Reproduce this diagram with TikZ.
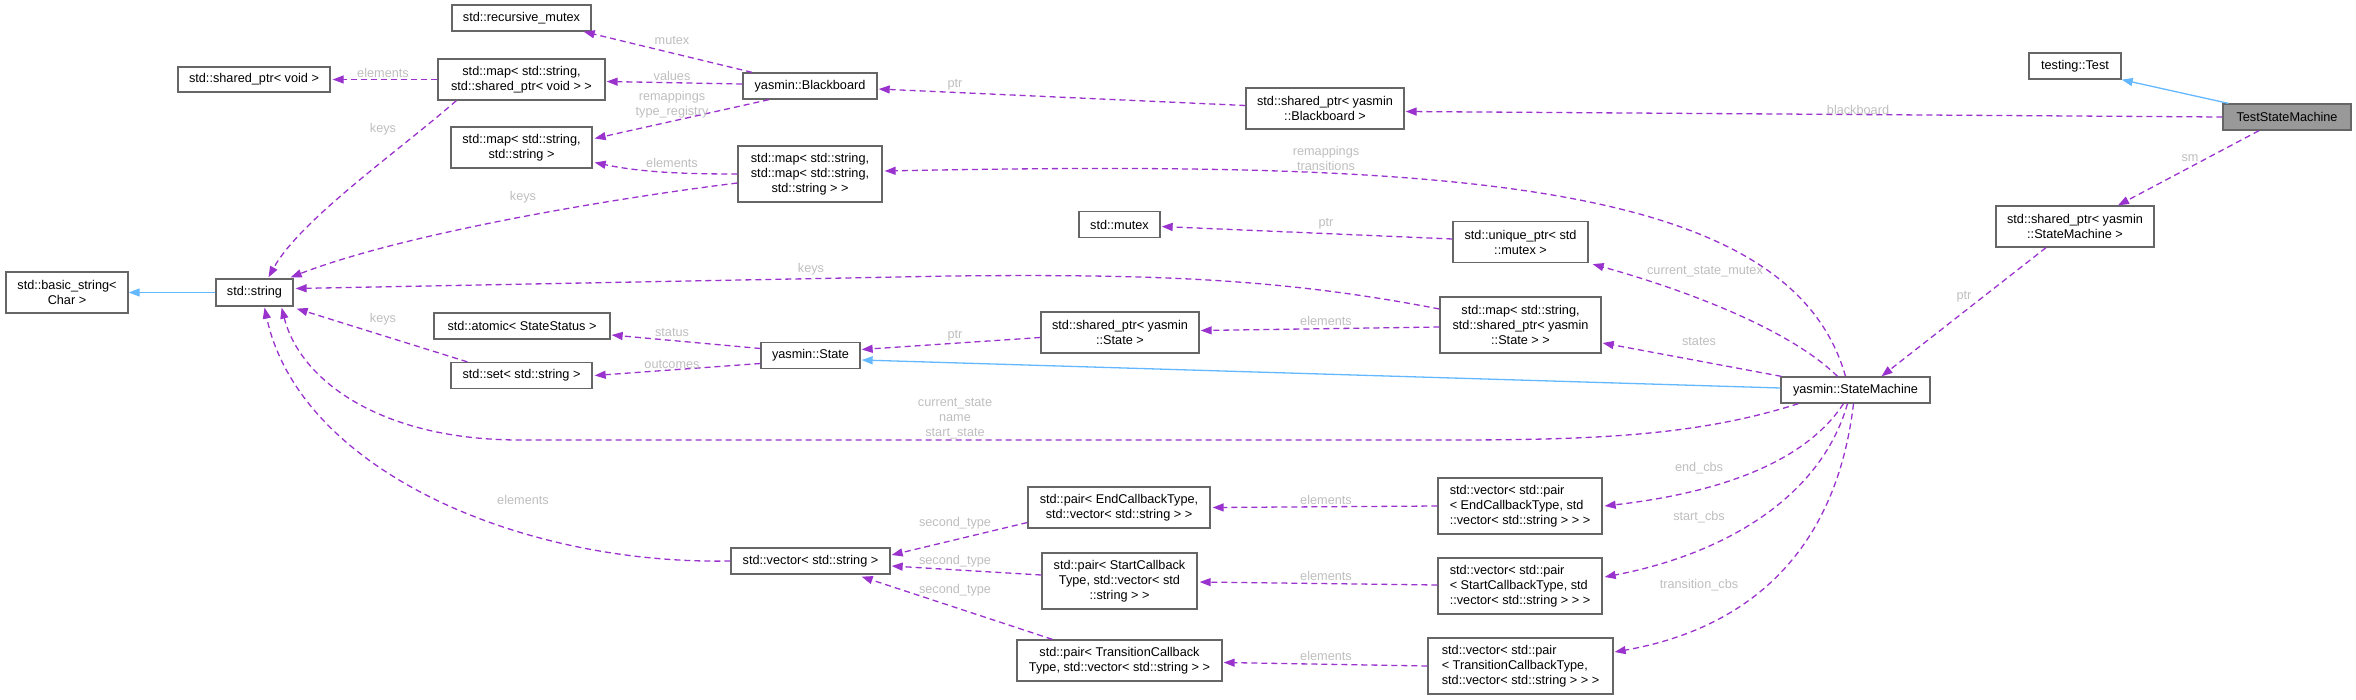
\documentclass[tikz,border=0pt]{standalone}
\usepackage{fontspec}
\setmainfont{Liberation Sans}
\usetikzlibrary{arrows.meta,calc}
\definecolor{edgepurple}{HTML}{9A32CD}
\definecolor{inhblue}{HTML}{63B8FF}
\definecolor{lblgray}{HTML}{BEBEBE}
\definecolor{boxborder}{HTML}{666666}
\definecolor{hlfill}{HTML}{999999}
\tikzset{
  box/.style={draw=boxborder, fill=white, line width=1.3pt, inner sep=0pt, align=center,
    font=\fontsize{12.7}{15}\selectfont},
  lbox/.style={box, align=left},
  hl/.style={box, fill=hlfill},
  lbl/.style={text=lblgray, inner sep=0pt, align=center, font=\fontsize{12.7}{15}\selectfont},
  uses/.style={draw=edgepurple, line width=1.3pt, dash pattern=on 6pt off 4pt,
    -{Triangle[length=11pt,width=8pt,fill=edgepurple]}},
  inh/.style={draw=inhblue, line width=1.3pt,
    -{Triangle[length=11pt,width=8pt,fill=inhblue]}},
}
\begin{document}
\begin{tikzpicture}[x=1pt,y=-1pt]
\useasboundingbox (0,0) rectangle (2356,699);
% nodes
\node[box, minimum width=139pt, minimum height=26pt] (rmutex) at (521.5,18) {std::recursive\_mutex};
\node[box, minimum width=152pt, minimum height=25pt] (spvoid) at (254,79.5) {std::shared\_ptr< void >};
\node[box, minimum width=167pt, minimum height=41pt] (mapsv) at (521.5,79.5) {std::map< std::string,\\ std::shared\_ptr< void > >};
\node[box, minimum width=134pt, minimum height=26pt] (bb) at (810,86) {yasmin::Blackboard};
\node[box, minimum width=141pt, minimum height=41pt] (mapss) at (521.5,147.5) {std::map< std::string,\\ std::string >};
\node[box, minimum width=144pt, minimum height=56pt] (mapmap) at (810,174) {std::map< std::string,\\ std::map< std::string,\\ std::string > >};
\node[box, minimum width=122pt, minimum height=41pt] (basic) at (67,292.5) {std::basic\_string<\\ Char >};
\node[box, minimum width=77pt, minimum height=27pt] (string) at (254.5,292.5) {std::string};
\node[box, minimum width=176pt, minimum height=26pt] (atomic) at (522,326) {std::atomic< StateStatus >};
\node[box, minimum width=99pt, minimum height=26pt] (state) at (810.5,355.5) {yasmin::State};
\node[box, minimum width=141pt, minimum height=26pt] (set) at (521.5,375.5) {std::set< std::string >};
\node[box, minimum width=159pt, minimum height=26pt] (vecstr) at (810.5,561) {std::vector< std::string >};
\node[box, minimum width=158pt, minimum height=41pt] (spbb) at (1325,108.5) {std::shared\_ptr< yasmin\\ ::Blackboard >};
\node[box, minimum width=81pt, minimum height=26pt] (mutex) at (1119.5,224.5) {std::mutex};
\node[box, minimum width=135pt, minimum height=41pt] (uptr) at (1520.5,242) {std::unique\_ptr< std\\ ::mutex >};
\node[box, minimum width=158pt, minimum height=41pt] (spstate) at (1120,332.5) {std::shared\_ptr< yasmin\\ ::State >};
\node[box, minimum width=161pt, minimum height=56pt] (mapstate) at (1520.5,325) {std::map< std::string,\\ std::shared\_ptr< yasmin\\ ::State > >};
\node[box, minimum width=182pt, minimum height=41pt] (pairend) at (1119,507.5) {std::pair< EndCallbackType,\\ std::vector< std::string > >};
\node[box, minimum width=155pt, minimum height=56pt] (pairstart) at (1119.5,581) {std::pair< StartCallback\\ Type, std::vector< std\\ ::string > >};
\node[box, minimum width=205pt, minimum height=41pt] (pairtrans) at (1119.5,660.5) {std::pair< TransitionCallback\\ Type, std::vector< std::string > >};
\node[lbox, minimum width=164pt, minimum height=56pt] (vecend) at (1520,506) {std::vector< std::pair\\ < EndCallbackType, std\\ ::vector< std::string > > >};
\node[lbox, minimum width=164pt, minimum height=56pt] (vecstart) at (1520,586) {std::vector< std::pair\\ < StartCallbackType, std\\ ::vector< std::string > > >};
\node[lbox, minimum width=185pt, minimum height=56pt] (vectrans) at (1520.5,666) {std::vector< std::pair\\ < TransitionCallbackType,\\ std::vector< std::string > > >};
\node[box, minimum width=92pt, minimum height=26pt] (test) at (2075,66) {testing::Test};
\node[hl, minimum width=128pt, minimum height=26pt] (tsm) at (2287,117) {TestStateMachine};
\node[box, minimum width=158pt, minimum height=41pt] (spsm) at (2075,226.5) {std::shared\_ptr< yasmin\\ ::StateMachine >};
\node[box, minimum width=149pt, minimum height=26pt] (sm) at (1855.5,390) {yasmin::StateMachine};

% edges
\draw[inh] ($(tsm.north west)+(6,0)$) -- (test.south east);
\draw[uses] (tsm.west) -- ($(spbb.east)+(1,3)$);
\draw[uses] ($(tsm.south)+(-28,0)$) -- ($(spsm.north)+(43,0)$);
\draw[uses] ($(spsm.south)+(-29,0)$) -- ($(sm.north)+(26,0)$);
\draw[inh] ($(sm.west)+(0,-2)$) -- ($(state.east)+(1,4.5)$);
\draw[uses] ($(sm.north)+(-10,0)$) .. controls (1790,180) and (1450,160) .. ($(mapmap.east)+(2,-3)$);
\draw[uses] ($(sm.north)+(-18,0)$) .. controls (1780,320) and (1650,280) .. ($(uptr.south east)+(4,1)$);
\draw[uses] ($(sm.north west)+(1,0)$) -- ($(mapstate.east)+(1,18)$);
\draw[uses] ($(sm.south west)+(18,0)$) .. controls (1700,435) and (1600,440) .. (1450,440) -- (520,440) .. controls (380,440) and (300,380) .. ($(string.south east)+(-12,1)$);
\draw[uses] ($(sm.south)+(-12,0)$) .. controls (1800,470) and (1700,495) .. ($(vecend.east)+(2,0)$);
\draw[uses] ($(sm.south)+(-8,0)$) .. controls (1820,500) and (1720,555) .. ($(vecstart.east)+(2,-9)$);
\draw[uses] ($(sm.south)+(-2,0)$) .. controls (1835,560) and (1740,630) .. ($(vectrans.east)+(1,-14)$);
\draw[uses] ($(spbb.west)+(0,-3)$) -- ($(bb.east)+(1,3)$);
\draw[uses] ($(bb.north)+(-58,0)$) -- ($(rmutex.south east)+(-8,0)$);
\draw[uses] ($(bb.west)+(0,-2)$) -- ($(mapsv.east)+(1,2)$);
\draw[uses] ($(bb.south)+(-41,0)$) -- ($(mapss.east)+(2,-9)$);
\draw[uses] (mapsv.west) -- ($(spvoid.east)+(2,0)$);
\draw[uses] ($(mapsv.south west)+(19,0)$) .. controls (400,150) and (300,220) .. ($(string.north)+(14,-1)$);
\draw[uses] (mapmap.west) .. controls (680,174) and (640,172) .. ($(mapss.east)+(2,15)$);
\draw[uses] ($(mapmap.west)+(0,9)$) .. controls (600,200) and (400,235) .. ($(string.north east)+(-3,-1)$);
\draw[uses] ($(uptr.west)+(0,-3)$) -- ($(mutex.east)+(1,2)$);
\draw[uses] ($(mapstate.west)+(0,2)$) -- ($(spstate.east)+(1,-2)$);
\draw[uses] ($(mapstate.west)+(0,-16)$) .. controls (1280,278) and (1150,274) .. (950,276) -- ($(string.east)+(2,-4)$);
\draw[uses] ($(spstate.west)+(0,5)$) -- ($(state.east)+(1,-6)$);
\draw[uses] ($(state.west)+(0,-7)$) -- ($(atomic.east)+(1,9)$);
\draw[uses] ($(state.west)+(0,8)$) -- ($(set.east)+(2,0)$);
\draw[uses] ($(set.north west)+(17,0)$) -- ($(string.south east)+(3,2)$);
\draw[inh] (string.west) -- (basic.east);
\draw[uses] (vecstr.west) .. controls (520,565) and (300,470) .. ($(string.south)+(10,1)$);
\draw[uses] ($(pairend.west)+(0,15)$) -- ($(vecstr.east)+(1,-6)$);
\draw[uses] ($(pairstart.west)+(0,-6)$) -- ($(vecstr.east)+(1,5)$);
\draw[uses] ($(pairtrans.north west)+(36,0)$) -- ($(vecstr.south east)+(-29,2)$);
\draw[uses] (vecend.west) -- ($(pairend.east)+(2,0)$);
\draw[uses] ($(vecstart.west)+(0,-1)$) -- ($(pairstart.east)+(2,1)$);
\draw[uses] (vectrans.west) -- ($(pairtrans.east)+(1,2)$);

% labels
\node[lbl] (l1) at (1858,110) {blackboard};
\node[lbl] (l2) at (2190,158) {sm};
\node[lbl] (l3) at (1964,297) {ptr};
\node[lbl] (l4) at (1326,158) {remappings\\transitions};
\node[lbl] (l5) at (1705,272) {current\_state\_mutex};
\node[lbl] (l6) at (1699,341) {states};
\node[lbl] (l7) at (955,419) {current\_state\\name\\start\_state};
\node[lbl] (l8) at (1699,468) {end\_cbs};
\node[lbl] (l9) at (1699,517) {start\_cbs};
\node[lbl] (l10) at (1699,585) {transition\_cbs};
\node[lbl] (l11) at (955,85) {ptr};
\node[lbl] (l12) at (672,40) {mutex};
\node[lbl] (l13) at (672,76) {values};
\node[lbl] (l14) at (672,105) {remappings\\type\_registry};
\node[lbl] (l15) at (383,73) {elements};
\node[lbl] (l16) at (383,129) {keys};
\node[lbl] (l17) at (672,163) {elements};
\node[lbl] (l18) at (523,197) {keys};
\node[lbl] (l19) at (1326,224) {ptr};
\node[lbl] (l20) at (1326,321) {elements};
\node[lbl] (l21) at (811,269) {keys};
\node[lbl] (l22) at (955,336) {ptr};
\node[lbl] (l23) at (672,332) {status};
\node[lbl] (l24) at (672,364) {outcomes};
\node[lbl] (l25) at (383,319) {keys};
\node[lbl] (l26) at (523,500) {elements};
\node[lbl] (l27) at (955,523) {second\_type};
\node[lbl] (l28) at (955,561) {second\_type};
\node[lbl] (l29) at (955,590) {second\_type};
\node[lbl] (l30) at (1326,500) {elements};
\node[lbl] (l31) at (1326,576) {elements};
\node[lbl] (l32) at (1326,656) {elements};
\end{tikzpicture}
\end{document}
